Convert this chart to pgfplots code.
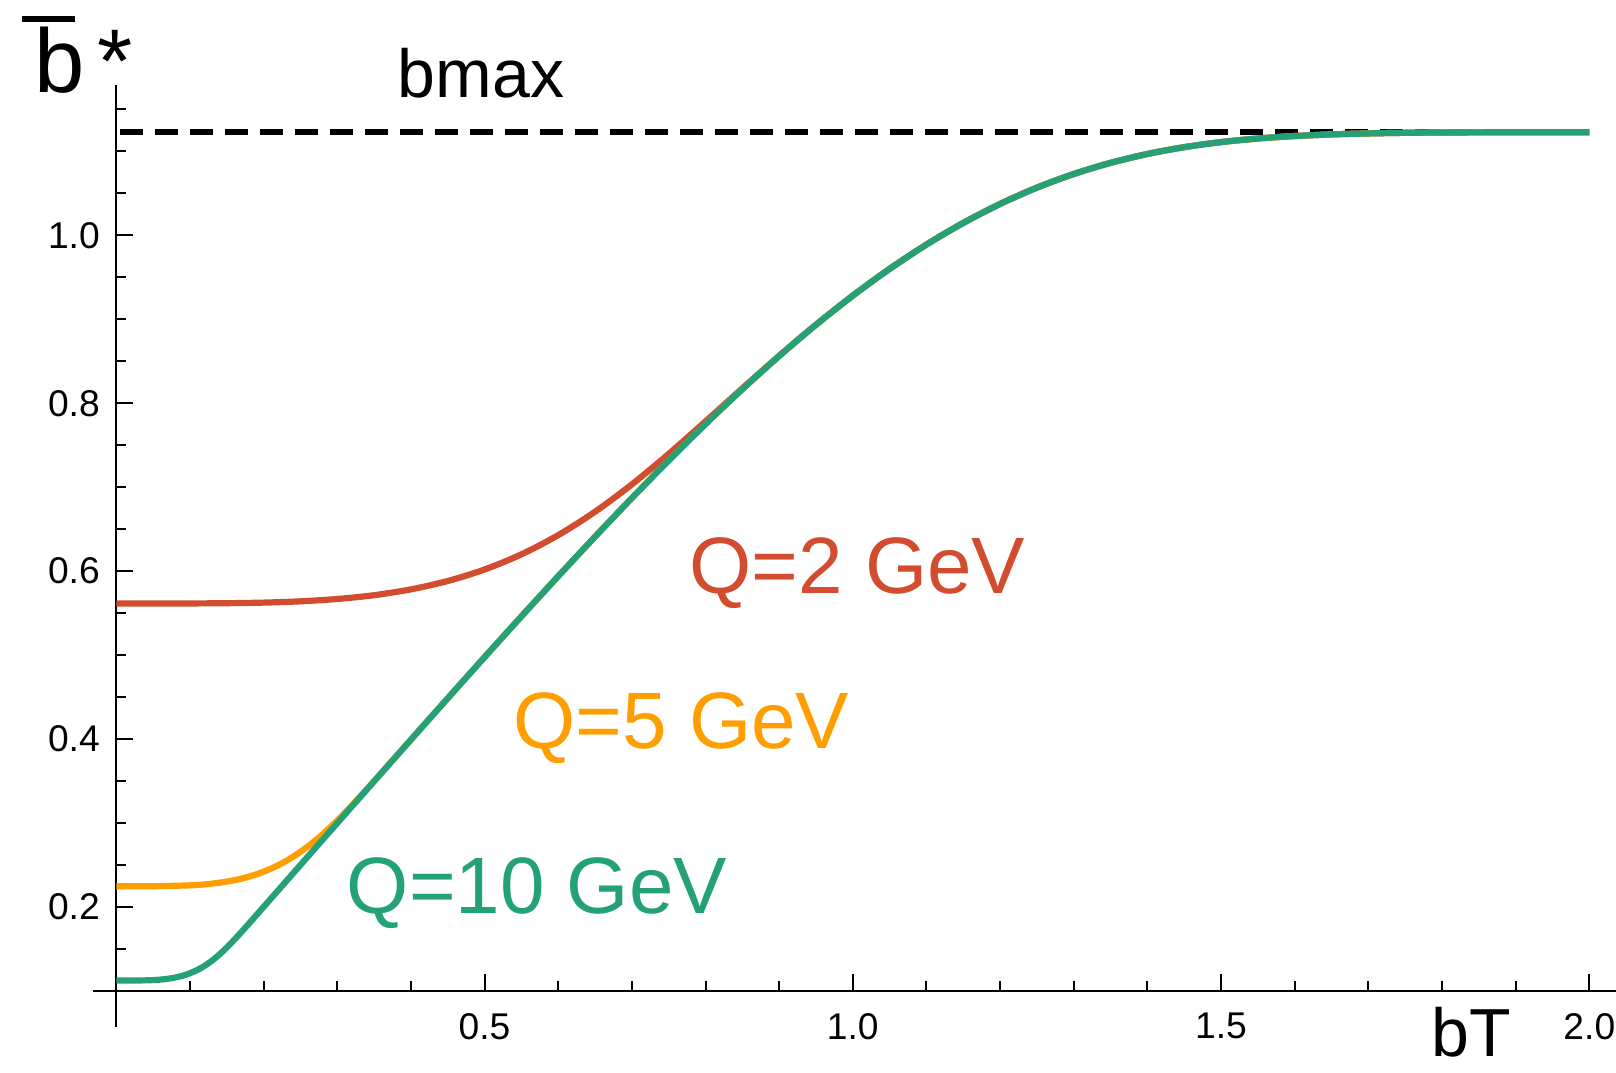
\documentclass[border=0pt]{standalone}
\usepackage{fontspec}
\setmainfont{Liberation Sans}
\usepackage{pgfplots}
\pgfplotsset{compat=1.18}
\usepackage{pgfplotstable}

\definecolor{qred}{RGB}{210,77,48}
\definecolor{qorange}{RGB}{255,158,0}
\definecolor{qgreen}{RGB}{36,161,121}

% bbar* versus bT for three values of Q (bmax = 1.12292)
\pgfplotstableread{
x y
0.00 0.56146
0.05 0.56146
0.10 0.56153
0.15 0.56182
0.20 0.56251
0.25 0.56405
0.30 0.56682
0.35 0.57134
0.40 0.57827
0.45 0.58824
0.50 0.60194
0.55 0.61999
0.60 0.64289
0.65 0.67077
0.70 0.70334
0.75 0.73966
0.80 0.77835
0.85 0.81780
0.90 0.85657
0.95 0.89359
1.00 0.92821
1.05 0.96010
1.10 0.98904
1.15 1.01484
1.20 1.03745
1.25 1.05686
1.30 1.07313
1.35 1.08641
1.40 1.09697
1.45 1.10509
1.50 1.11111
1.55 1.11540
1.60 1.11834
1.65 1.12026
1.70 1.12145
1.75 1.12215
1.80 1.12254
1.90 1.12284
2.00 1.12291
}\qtwo

\pgfplotstableread{
x y
0.00 0.22458
0.05 0.22465
0.10 0.22569
0.12 0.22687
0.14 0.22880
0.16 0.23176
0.18 0.23603
0.20 0.24193
0.22 0.24973
0.24 0.25970
0.26 0.27197
0.28 0.28648
0.30 0.30300
0.32 0.32105
0.34 0.34009
0.36 0.35965
0.38 0.37941
0.40 0.39920
0.45 0.44855
0.50 0.49755
0.55 0.54605
0.60 0.59394
0.65 0.64100
0.70 0.68704
0.75 0.73186
0.80 0.77518
0.85 0.81673
0.90 0.85627
0.95 0.89350
1.00 0.92820
1.05 0.96010
1.10 0.98904
1.15 1.01484
1.20 1.03745
1.25 1.05686
1.30 1.07313
1.35 1.08641
1.40 1.09697
1.45 1.10509
1.50 1.11111
1.55 1.11540
1.60 1.11834
1.65 1.12026
1.70 1.12145
1.75 1.12215
1.80 1.12254
1.90 1.12284
2.00 1.12291
}\qfive

\pgfplotstableread{
x y
0.00 0.11229
0.02 0.11231
0.04 0.11252
0.05 0.11284
0.06 0.11343
0.07 0.11440
0.08 0.11589
0.09 0.11803
0.10 0.12098
0.11 0.12489
0.12 0.12989
0.13 0.13603
0.14 0.14331
0.15 0.15160
0.16 0.16066
0.17 0.17022
0.18 0.18006
0.19 0.19002
0.20 0.19998
0.25 0.24993
0.30 0.29983
0.35 0.34959
0.40 0.39920
0.45 0.44855
0.50 0.49755
0.55 0.54605
0.60 0.59394
0.65 0.64100
0.70 0.68704
0.75 0.73186
0.80 0.77518
0.85 0.81673
0.90 0.85627
0.95 0.89350
1.00 0.92820
1.05 0.96010
1.10 0.98904
1.15 1.01484
1.20 1.03745
1.25 1.05686
1.30 1.07313
1.35 1.08641
1.40 1.09697
1.45 1.10509
1.50 1.11111
1.55 1.11540
1.60 1.11834
1.65 1.12026
1.70 1.12145
1.75 1.12215
1.80 1.12254
1.90 1.12284
2.00 1.12291
}\qten

\pgfplotstableread{
x y
0.005 1.12292
2.00 1.12292
}\bmaxline

\begin{document}
\begin{tikzpicture}
\begin{axis}[
  scale only axis,
  width=380.73pt, height=235.43pt,
  xmin=-0.0316, xmax=2.0362,
  ymin=0.0572, ymax=1.1791,
  axis x line=bottom, axis y line=left,
  axis x line shift=-8.98pt, axis y line shift=-5.82pt,
  axis line style={-, line width=0.5pt, black},
  clip=false,
  tick align=inside,
  major tick length=4.1pt, minor tick length=2.5pt,
  every tick/.style={black, line width=0.5pt},
  xtick={0.5,1.0,1.5,2.0},
  minor xtick={0.1,0.2,0.3,0.4,0.6,0.7,0.8,0.9,1.1,1.2,1.3,1.4,1.6,1.7,1.8,1.9},
  ytick={0.2,0.4,0.6,0.8,1.0},
  minor ytick={0.15,0.25,0.3,0.35,0.45,0.5,0.55,0.65,0.7,0.75,0.85,0.9,0.95,1.05,1.1,1.15},
  /pgf/number format/assume math mode=true,
  /pgf/number format/.cd, fixed, fixed zerofill, precision=1, /pgfplots/.cd,
  tick label style={font=\fontsize{9.3}{11}\selectfont},
  xticklabel style={yshift=-2.1pt},
  yticklabel style={xshift=-0.6pt},
]
\addplot[black, line width=1.6pt, dash pattern=on 5.75pt off 3pt] table[x=x,y=y] {\bmaxline};
\addplot[qred, line width=1.55pt, smooth] table[x=x,y=y] {\qtwo};
\addplot[qorange, line width=1.55pt, smooth] table[x=x,y=y] {\qfive};
\addplot[qgreen, line width=1.55pt, smooth] table[x=x,y=y] {\qten};

\node[anchor=base, inner sep=0pt, text=qred, font=\fontsize{20}{24}\selectfont] at (axis cs:1.0063,0.5739) {Q=2 GeV};
\node[anchor=base, inner sep=0pt, text=qorange, font=\fontsize{20}{24}\selectfont] at (axis cs:0.7674,0.3893) {Q=5 GeV};
\node[anchor=base, inner sep=0pt, text=qgreen, font=\fontsize{20}{24}\selectfont] at (axis cs:0.5712,0.1927) {Q=10 GeV};

\node[anchor=base, inner sep=0pt, font=\fontsize{17}{20}\selectfont] at (axis cs:0.4952,1.1642) {bmax};
\node[anchor=base, inner sep=0pt, font=\fontsize{17}{20}\selectfont] at (axis cs:1.8401,0.0215) {bT};
\node[anchor=base west, inner sep=0pt, font=\fontsize{22.6}{26}\selectfont] at (axis cs:-0.1117,1.1699)
  {\makebox[0pt][l]{\hspace{-3.25pt}\raisebox{17.75pt}{\rule{13.25pt}{1.5pt}}}b\hspace{3pt}*};

\coordinate (pageBL) at (axis cs:-0.1579,0.0033);
\coordinate (pageTR) at (axis cs:2.0362,1.2804);
\end{axis}
\pgfresetboundingbox
\useasboundingbox (pageBL) rectangle (pageTR);
\end{tikzpicture}
\end{document}
